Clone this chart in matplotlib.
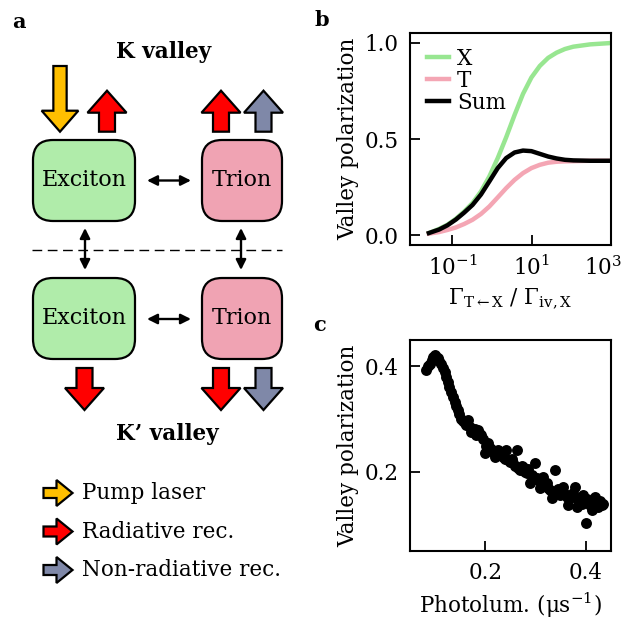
import matplotlib
matplotlib.use("Agg")
import matplotlib.pyplot as plt
import matplotlib.transforms as mtransforms
import numpy as np
from matplotlib.patches import FancyArrow, FancyBboxPatch

plt.rcParams["font.family"] = ["DejaVu Serif"]
plt.rcParams["mathtext.fontset"] = "dejavuserif"
plt.rcParams["font.size"] = 15.5

# %% panel b: model curves
ratio = [0.0255, 0.0458, 0.0746, 0.122, 0.198, 0.322, 0.525, 0.855, 1.39, 2.27,
         3.70, 6.03, 9.82, 16.0, 26.0, 42.4, 69.0, 112, 299, 1000]
pol_x = [0.012, 0.033, 0.055, 0.086, 0.124, 0.168, 0.228, 0.306, 0.401, 0.509,
         0.625, 0.734, 0.819, 0.879, 0.921, 0.948, 0.967, 0.979, 0.991, 0.998]
pol_t = [0.009, 0.017, 0.028, 0.041, 0.059, 0.081, 0.111, 0.150, 0.197, 0.245,
         0.288, 0.323, 0.349, 0.366, 0.377, 0.382, 0.384, 0.385, 0.387, 0.387]
pol_sum = [0.012, 0.030, 0.052, 0.082, 0.118, 0.158, 0.212, 0.280, 0.349, 0.401,
           0.430, 0.440, 0.437, 0.423, 0.409, 0.399, 0.392, 0.389, 0.387, 0.387]

# %% panel c: measured points
photolum = [0.082, 0.086, 0.089, 0.093, 0.096, 0.099, 0.102, 0.105, 0.108, 0.112,
            0.115, 0.119, 0.122, 0.125, 0.128, 0.132, 0.135, 0.139, 0.142, 0.145,
            0.148, 0.152, 0.156, 0.159, 0.162, 0.166, 0.169, 0.172, 0.176, 0.179,
            0.182, 0.186, 0.189, 0.192, 0.195, 0.199, 0.202, 0.205, 0.209, 0.212,
            0.215, 0.219, 0.222, 0.225, 0.229, 0.232, 0.235, 0.239, 0.242, 0.245,
            0.249, 0.252, 0.255, 0.259, 0.262, 0.265, 0.269, 0.272, 0.275, 0.279,
            0.282, 0.285, 0.289, 0.292, 0.295, 0.299, 0.302, 0.305, 0.309, 0.312,
            0.315, 0.319, 0.322, 0.325, 0.329, 0.332, 0.335, 0.339, 0.342, 0.345,
            0.349, 0.352, 0.355, 0.359, 0.362, 0.365, 0.369, 0.372, 0.375, 0.379,
            0.382, 0.385, 0.389, 0.392, 0.395, 0.400, 0.402, 0.405, 0.409, 0.412,
            0.415, 0.419, 0.422, 0.425, 0.429, 0.432, 0.435]
valley_pol = [0.394, 0.400, 0.405, 0.413, 0.417, 0.421, 0.418, 0.415, 0.410, 0.405,
              0.397, 0.389, 0.380, 0.370, 0.361, 0.351, 0.342, 0.332, 0.324, 0.317,
              0.309, 0.301, 0.297, 0.292, 0.288, 0.298, 0.285, 0.276, 0.280, 0.282,
              0.270, 0.279, 0.272, 0.269, 0.262, 0.235, 0.250, 0.254, 0.246, 0.244,
              0.238, 0.228, 0.233, 0.241, 0.236, 0.235, 0.229, 0.225, 0.241, 0.222,
              0.219, 0.224, 0.216, 0.212, 0.241, 0.208, 0.203, 0.211, 0.209, 0.200,
              0.197, 0.205, 0.178, 0.194, 0.191, 0.216, 0.188, 0.184, 0.169, 0.180,
              0.191, 0.176, 0.178, 0.170, 0.165, 0.150, 0.160, 0.203, 0.162, 0.168,
              0.156, 0.160, 0.172, 0.158, 0.153, 0.137, 0.150, 0.156, 0.160, 0.172,
              0.134, 0.146, 0.150, 0.140, 0.156, 0.104, 0.148, 0.143, 0.138, 0.128,
              0.133, 0.153, 0.140, 0.134, 0.145, 0.138, 0.140]

green_line = "#98e691"
pink_line = "#f4a6b4"
box_green = "#b0ecaa"
box_pink = "#f0a3b3"
orange = "#ffbf00"
red = "#ff0000"
slate = "#7f88a8"

W, H = 626, 620
fig = plt.figure(figsize=(W / 100, H / 100), dpi=100)

# %% panel a: drawn in pixel coordinates on a full-figure axes
ax0 = fig.add_axes([0, 0, 1, 1])
ax0.set_xlim(0, W)
ax0.set_ylim(H, 0)
ax0.axis("off")


def block_arrow(x, y, dy, color, width=16, head_width=39, head_length=22):
    ax0.add_patch(FancyArrow(x, y, 0, dy, width=width, head_width=head_width,
                             head_length=head_length, length_includes_head=True,
                             fc=color, ec="black", lw=1.6, zorder=3))


def side_arrow(x, y, color):
    ax0.add_patch(FancyArrow(x, y, 29, 0, width=10, head_width=26,
                             head_length=16, length_includes_head=True,
                             fc=color, ec="black", lw=1.6, zorder=3))


def state_box(x0, y0, w, h, color, text):
    ax0.add_patch(FancyBboxPatch((x0, y0), w, h,
                                 boxstyle="round,pad=0,rounding_size=20",
                                 fc=color, ec="black", lw=1.6, zorder=2))
    ax0.text(x0 + w / 2, y0 + h / 2, text, ha="center", va="center",
             fontsize=16, zorder=4)


def double_arrow(p0, p1):
    ax0.annotate("", xy=p1, xytext=p0,
                 arrowprops=dict(arrowstyle="<|-|>", lw=1.7, color="black",
                                 mutation_scale=15, shrinkA=0, shrinkB=0))


ax0.text(19, 22, "a", fontsize=15, fontweight="bold", ha="center", va="center")
ax0.text(322, 20, "b", fontsize=15, fontweight="bold", ha="center", va="center")
ax0.text(320, 325, "c", fontsize=15, fontweight="bold", ha="center", va="center")

ax0.text(164, 52, "K valley", fontsize=15.5, fontweight="bold",
         ha="center", va="center")
ax0.text(167, 434, "K\u2019 valley", fontsize=15.5, fontweight="bold",
         ha="center", va="center")

state_box(33, 140, 102, 81, box_green, "Exciton")
state_box(202, 140, 80, 81, box_pink, "Trion")
state_box(33, 278, 102, 81, box_green, "Exciton")
state_box(202, 278, 80, 81, box_pink, "Trion")

# K valley arrows
block_arrow(60, 66, 65.7, orange, width=13.3, head_width=36.7, head_length=21)
block_arrow(107, 131.7, -41, red)
block_arrow(221, 131.7, -41, red)
block_arrow(263.5, 131.7, -41, slate)
# K' valley arrows
block_arrow(84.5, 368, 42, red)
block_arrow(221, 368, 42, red)
block_arrow(263.5, 368, 42, slate)

double_arrow((147, 180.5), (191, 180.5))
double_arrow((147, 319), (191, 319))
double_arrow((85, 228), (85, 270))
double_arrow((241, 228), (241, 270))

ax0.plot([32, 282], [249.5, 249.5], color="black", lw=1.0, ls=(0, (7, 4)))

legend_items = [(orange, "Pump laser"), (red, "Radiative rec."),
                (slate, "Non-radiative rec.")]
for i, (col, lab) in enumerate(legend_items):
    yy = 493 + i * 38.5
    side_arrow(43.5, yy, col)
    ax0.text(82, yy, lab, fontsize=15.5, ha="left", va="center")

# %% panel b
axb = fig.add_axes([410 / W, 1 - 245 / H, 201 / W, 212 / H])
axb.plot(ratio, pol_x, color=green_line, lw=3.2, label="X")
axb.plot(ratio, pol_t, color=pink_line, lw=3.2, label="T")
axb.plot(ratio, pol_sum, color="black", lw=3.2, label="Sum")
axb.set_xscale("log")
axb.set_xlim(10 ** -2.07, 1000)
axb.set_ylim(-0.05, 1.05)
axb.set_xticks([1e-1, 1e1, 1e3])
axb.set_yticks([0.0, 0.5, 1.0])
axb.minorticks_off()
axb.set_xlabel(r"$\Gamma_{\mathrm{T}\leftarrow\mathrm{X}}\ /\ \Gamma_{\mathrm{iv,X}}$",
               labelpad=4)
axb.set_ylabel("Valley polarization", labelpad=4)
axb.legend(loc="upper left", frameon=False, handlelength=1.05,
           handletextpad=0.35, labelspacing=0.0, borderaxespad=0.2,
           borderpad=0.3, bbox_to_anchor=(0.03, -0.02, 1, 1))

# %% panel c
axc = fig.add_axes([410 / W, 1 - 551 / H, 201 / W, 211 / H])
axc.scatter(photolum, valley_pol, s=62, color="black", lw=0, zorder=3)
axc.set_xlim(0.05, 0.45)
axc.set_ylim(0.05, 0.45)
axc.set_xticks([0.2, 0.4])
axc.set_yticks([0.2, 0.4])
axc.set_xlabel("Photolum. (\u03bcs$^{-1}$)", labelpad=5)
axc.set_ylabel("Valley polarization", labelpad=4)

for ax in (axb, axc):
    ax.tick_params(direction="in", length=7, width=1.3, pad=8)
    for s in ax.spines.values():
        s.set_linewidth(1.5)

# the right-most tick label sits at the figure edge; nudge it inside
last = axb.get_xticklabels()[-1]
last.set_transform(last.get_transform()
                   + mtransforms.ScaledTranslation(-8 / 100, 0, fig.dpi_scale_trans))

fig.savefig("out.png", dpi=100)
